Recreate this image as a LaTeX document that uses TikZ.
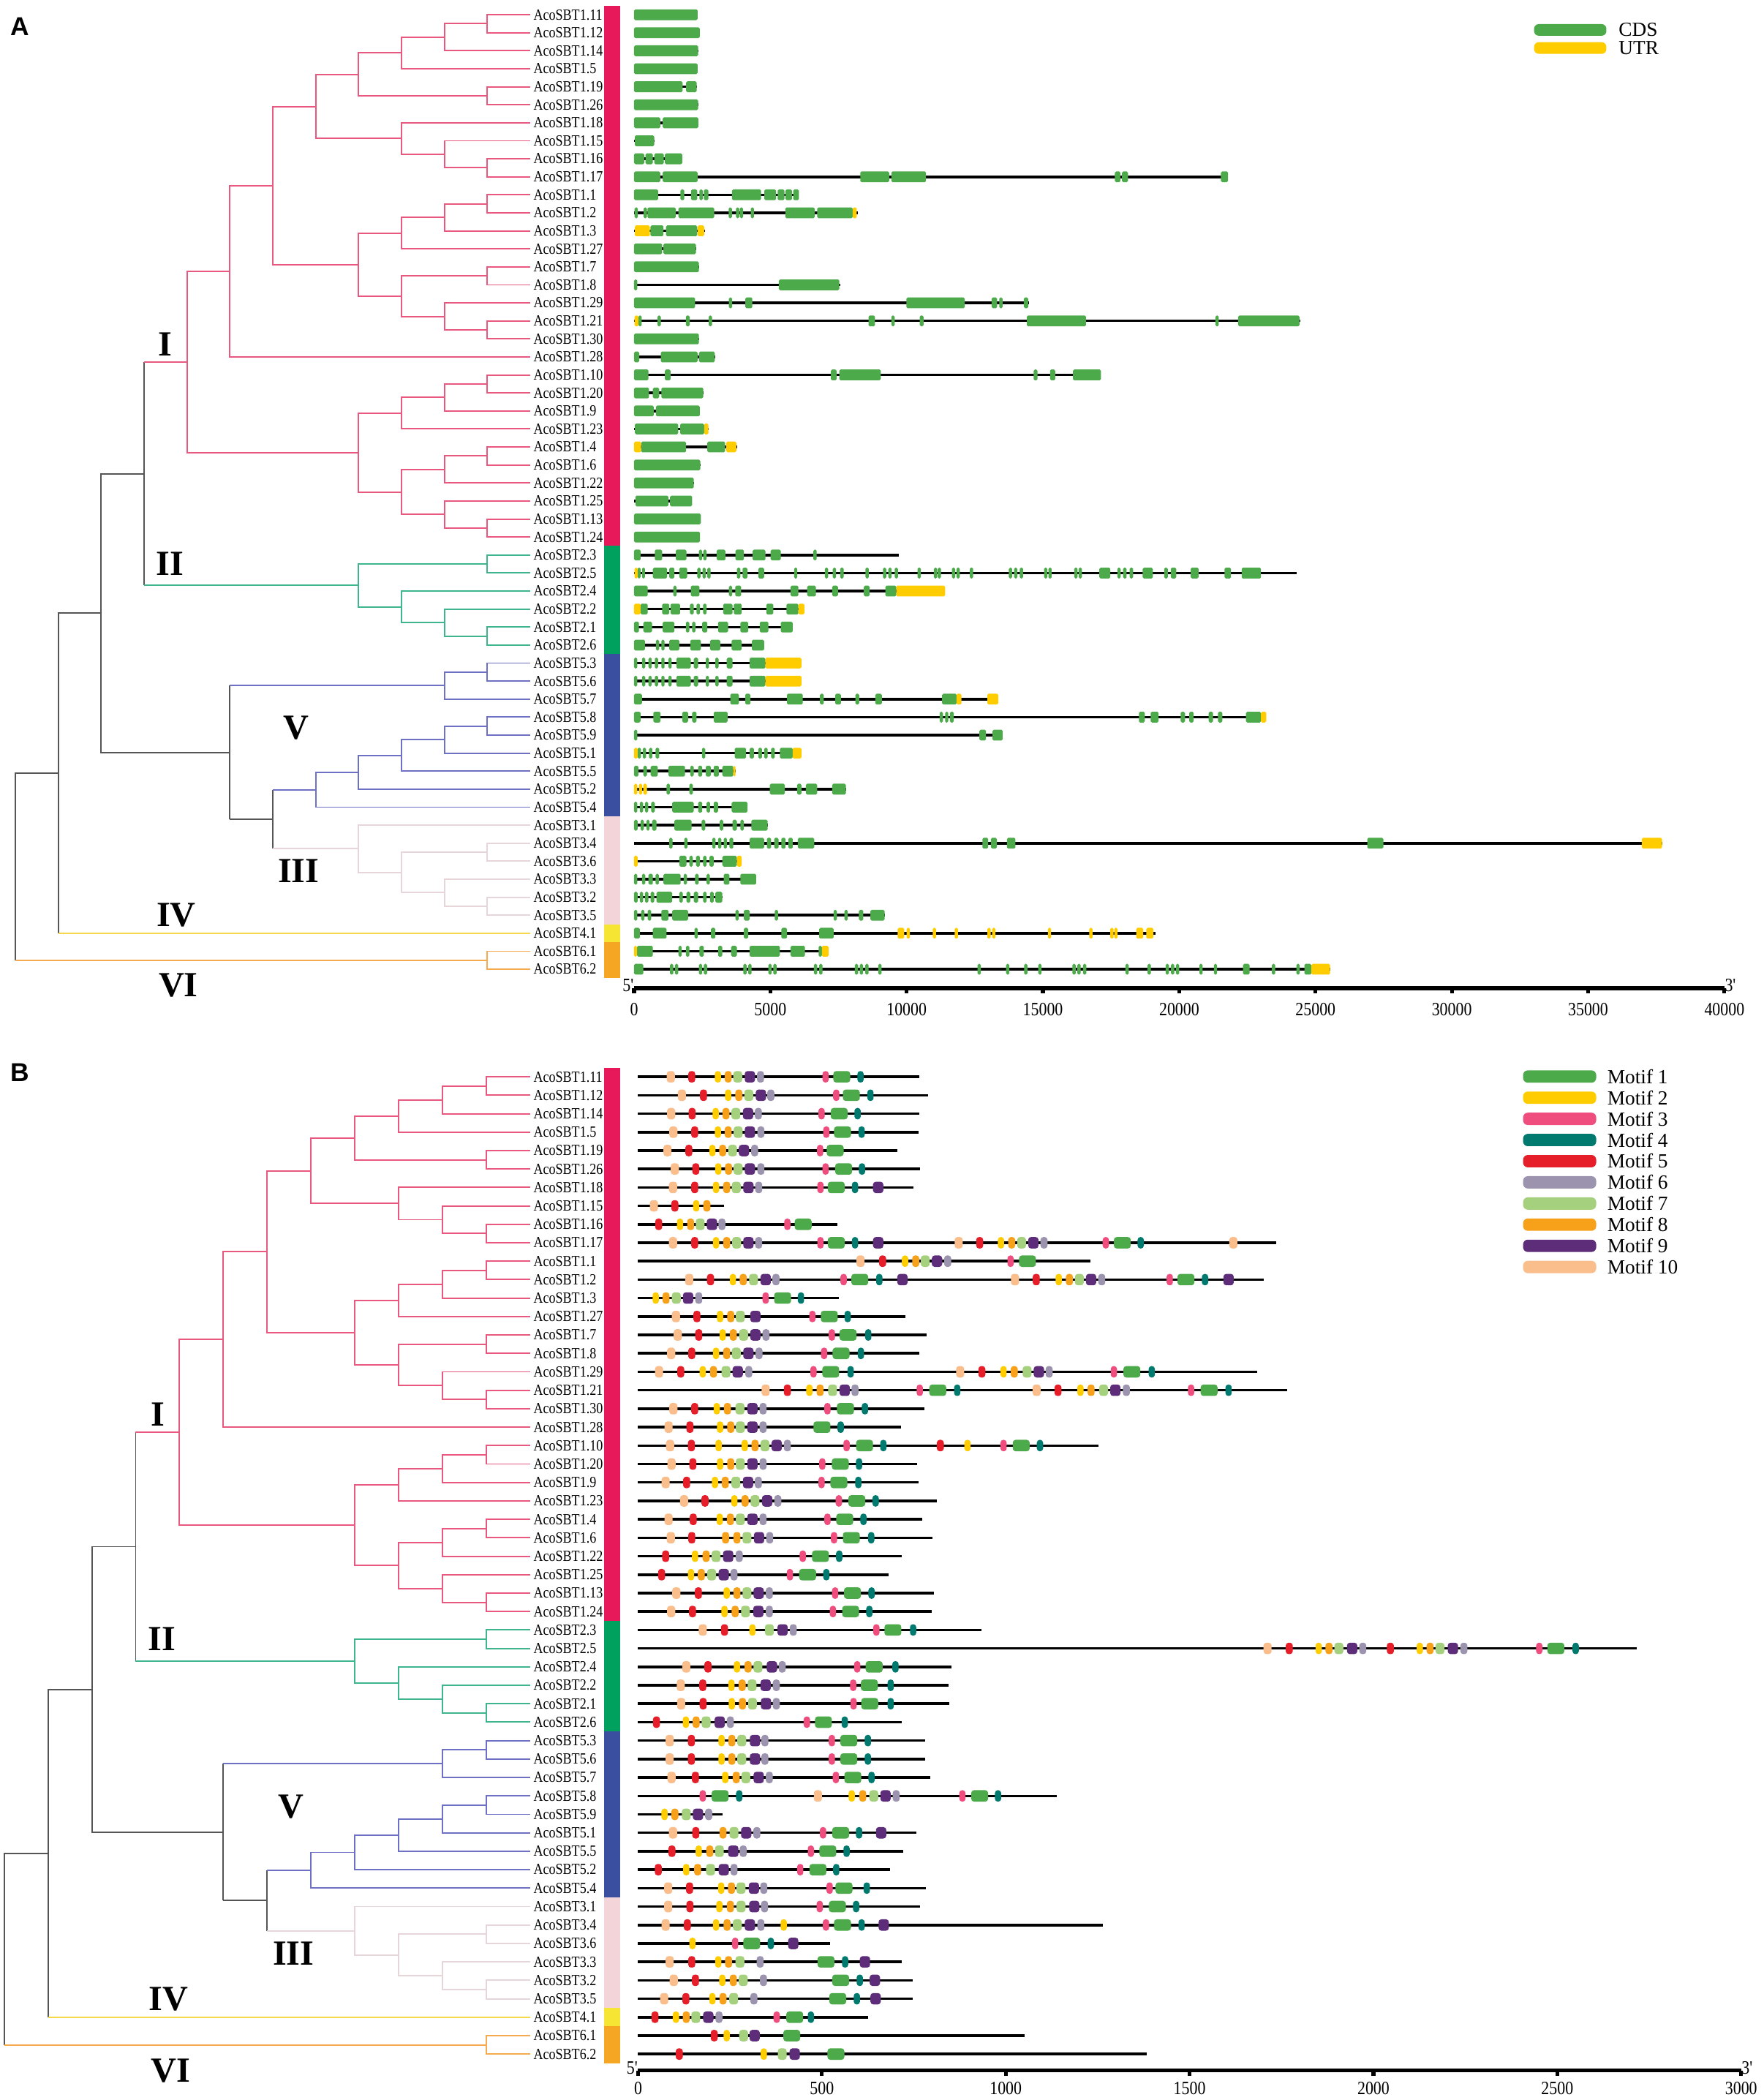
\documentclass[tikz,border=0pt]{standalone}
\usepackage{fontspec}
\setmainfont{Liberation Serif}
\newfontfamily\narrowfont[FakeStretch=0.85]{Liberation Serif}
\newfontfamily\panelfont{Liberation Sans}

% colours
\definecolor{cdsgreen}{HTML}{4DAA4A}
\definecolor{utryellow}{HTML}{FFCC00}
\definecolor{mc1}{HTML}{4DAA4A}
\definecolor{mc2}{HTML}{FFCC00}
\definecolor{mc3}{HTML}{EE4D7E}
\definecolor{mc4}{HTML}{007A6E}
\definecolor{mc5}{HTML}{E61E2A}
\definecolor{mc6}{HTML}{9C93AF}
\definecolor{mc7}{HTML}{A5D17F}
\definecolor{mc8}{HTML}{F7A11A}
\definecolor{mc9}{HTML}{5E2D79}
\definecolor{mc10}{HTML}{F9BE8C}
\definecolor{barI}{HTML}{E8195A}
\definecolor{barII}{HTML}{00A05E}
\definecolor{barV}{HTML}{3B4FA0}
\definecolor{barIII}{HTML}{F3D5D9}
\definecolor{barIV}{HTML}{F7E533}
\definecolor{barVI}{HTML}{F5A623}
\definecolor{lnI}{HTML}{E8587F}
\definecolor{lnII}{HTML}{3FB58F}
\definecolor{lnV}{HTML}{6E70C4}
\definecolor{lnIII}{HTML}{E6D6DA}
\definecolor{lnIV}{HTML}{F5D94A}
\definecolor{lnVI}{HTML}{F5AA4F}
\definecolor{lnback}{HTML}{555555}

\newcommand{\genelist}{1.11,1.12,1.14,1.5,1.19,1.26,1.18,1.15,1.16,1.17,1.1,1.2,1.3,1.27,1.7,1.8,1.29,1.21,1.30,1.28,1.10,1.20,1.9,1.23,1.4,1.6,1.22,1.25,1.13,1.24,2.3,2.5,2.4,2.2,2.1,2.6,5.3,5.6,5.7,5.8,5.9,5.1,5.5,5.2,5.4,3.1,3.4,3.6,3.3,3.2,3.5,4.1,6.1,6.2}
\newcommand{\motifw}{{0,46,17,17,17,19,19,24,19,28,22}}

% one gene: row, length (kb), CDS list
\newcommand{\genebar}[3]{%
  \draw[intron] (0,#1) -- (#2,#1);
  \foreach \ga/\gb in {#3} \fill[cds] (\ga,#1-0.3) rectangle (\gb,#1+0.3);
}
\newcommand{\utrbox}[2]{%
  \foreach \ga/\gb in {#2} \fill[utr] (\ga,#1-0.3) rectangle (\gb,#1+0.3);
}
% one protein: row, length (aa), motif/centre list
\newcommand{\motifrow}[3]{%
  \draw[protein] (0,#1) -- (#2,#1);
  \foreach \mnum/\mpos in {#3} {
    \pgfmathsetmacro{\hw}{\motifw[\mnum]/2}
    \fill[motif, fill=mc\mnum] (\mpos-\hw,#1-0.31) rectangle (\mpos+\hw,#1+0.31);
  }
}

% tree in (level,row) units, leaves at level 0
\newcommand{\sbttree}[1]{%
  % clade I
  \draw[brI] (0,0) -| (1,0.5) |- (0,1);
  \draw[brI] (1,0.5) -| (2,1.25) |- (0,2);
  \draw[brI] (2,1.25) -| (3,2.125) |- (0,3);
  \draw[brI] (0,4) -| (1,4.5) |- (0,5);
  \draw[brI] (3,2.125) -| (4,3.3125) |- (1,4.5);
  \draw[brI] (0,8) -| (1,8.5) |- (0,9);
  \draw[brI] (0,7) -| (2,7.75) |- (1,8.5);
  \draw[brI] (0,6) -| (3,6.875) |- (2,7.75);
  \draw[brI] (4,3.3125) -| (5,5.094) |- (3,6.875);
  \draw[brI] (0,10) -| (1,10.5) |- (0,11);
  \draw[brI] (1,10.5) -| (2,11.25) |- (0,12);
  \draw[brI] (2,11.25) -| (3,12.125) |- (0,13);
  \draw[brI] (0,14) -| (1,14.5) |- (0,15);
  \draw[brI] (0,17) -| (1,17.5) |- (0,18);
  \draw[brI] (0,16) -| (2,16.75) |- (1,17.5);
  \draw[brI] (1,14.5) -| (3,15.625) |- (2,16.75);
  \draw[brI] (3,12.125) -| (4,13.875) |- (3,15.625);
  \draw[brI] (5,5.094) -| (6,9.484) |- (4,13.875);
  \draw[brI] (6,9.484) -| (7,14.242) |- (0,19);
  \draw[brI] (0,20) -| (1,20.5) |- (0,21);
  \draw[brI] (1,20.5) -| (2,21.25) |- (0,22);
  \draw[brI] (2,21.25) -| (3,22.125) |- (0,23);
  \draw[brI] (0,24) -| (1,24.5) |- (0,25);
  \draw[brI] (1,24.5) -| (2,25.25) |- (0,26);
  \draw[brI] (0,28) -| (1,28.5) |- (0,29);
  \draw[brI] (0,27) -| (2,27.75) |- (1,28.5);
  \draw[brI] (2,25.25) -| (3,26.5) |- (2,27.75);
  \draw[brI] (3,22.125) -| (4,24.3125) |- (3,26.5);
  \draw[brI] (7,14.242) -| (8,19.277) |- (4,24.3125);
  % clade II
  \draw[brII] (0,30) -| (1,30.5) |- (0,31);
  \draw[brII] (0,34) -| (1,34.5) |- (0,35);
  \draw[brII] (0,33) -| (2,33.75) |- (1,34.5);
  \draw[brII] (0,32) -| (3,32.875) |- (2,33.75);
  \draw[brII] (1,30.5) -| (4,31.6875) |- (3,32.875);
  % I + II
  \draw[brback] (9,19.277) -- (9,31.6875);
  \draw[brI] (8,19.277) -- (9,19.277);
  \draw[brII] (4,31.6875) -- (9,31.6875);
  % clade V
  \draw[brV] (0,36) -| (1,36.5) |- (0,37);
  \draw[brV] (1,36.5) -| (2,37.25) |- (0,38);
  \draw[brV] (0,39) -| (1,39.5) |- (0,40);
  \draw[brV] (1,39.5) -| (2,40.25) |- (0,41);
  \draw[brV] (2,40.25) -| (3,41.125) |- (0,42);
  \draw[brV] (3,41.125) -| (4,42.0625) |- (0,43);
  \draw[brV] (4,42.0625) -| (5,43.031) |- (0,44);
  % clade III
  \draw[brIII] (0,46) -| (1,46.5) |- (0,47);
  \draw[brIII] (0,49) -| (1,49.5) |- (0,50);
  \draw[brIII] (0,48) -| (2,48.75) |- (1,49.5);
  \draw[brIII] (1,46.5) -| (3,47.625) |- (2,48.75);
  \draw[brIII] (0,45) -| (4,46.3125) |- (3,47.625);
  % V + III
  \draw[brback] (6,43.031) -- (6,46.3125);
  \draw[brV] (5,43.031) -- (6,43.031);
  \draw[brIII] (4,46.3125) -- (6,46.3125);
  \draw[brback] (7,37.25) -- (7,44.672);
  \draw[brV] (2,37.25) -- (7,37.25);
  \draw[brback] (6,44.672) -- (7,44.672);
  % backbone, IV and VI
  \draw[brback] (9,25.482) -| (10,33.22) |- (7,40.961);
  \draw[brback] (10,33.22) -| (11,51);
  \draw[brIV] (11,51) -- (0,51);
  \draw[brback] (11,42.11) -| (12,52.5);
  \draw[brVI] (12,52.5) -- (1,52.5);
  \draw[brVI] (0,52) -| (1,52.5) |- (0,53);
  % gene names
  \foreach \g [count=\ri from 0] in \genelist
    \node[gname] (#1-\ri) at (0,\ri) {AcoSBT\g};
  % clade bar
  \fill[barI] ([xshift=1.1cm]0,-0.5) rectangle ([xshift=1.34cm]0,29.5);
  \fill[barII] ([xshift=1.1cm]0,29.5) rectangle ([xshift=1.34cm]0,35.5);
  \fill[barV] ([xshift=1.1cm]0,35.5) rectangle ([xshift=1.34cm]0,44.5);
  \fill[barIII] ([xshift=1.1cm]0,44.5) rectangle ([xshift=1.34cm]0,50.5);
  \fill[barIV] ([xshift=1.1cm]0,50.5) rectangle ([xshift=1.34cm]0,51.5);
  \fill[barVI] ([xshift=1.1cm]0,51.5) rectangle ([xshift=1.34cm]0,53.5);
  % clade numerals
  \node[clab] (#1-I) at (8.5,18.3) {I};
  \node[clab] (#1-II) at (8.4,30.5) {II};
  \node[clab] (#1-V) at (5.45,39.6) {V};
  \node[clab] (#1-III) at (5.4,47.55) {III};
  \node[clab] (#1-IV) at (8.25,50) {IV};
  \node[clab] (#1-VI) at (8.2,53.9) {VI};
}

\begin{document}
\begin{tikzpicture}[x=0.02cm, y=-0.02cm,
  brI/.style={draw=lnI, line width=0.6pt},
  brII/.style={draw=lnII, line width=0.6pt},
  brV/.style={draw=lnV, line width=0.6pt},
  brIII/.style={draw=lnIII, line width=0.6pt},
  brIV/.style={draw=lnIV, line width=0.6pt},
  brVI/.style={draw=lnVI, line width=0.6pt},
  brback/.style={draw=lnback, line width=0.6pt},
  gname/.style={font=\narrowfont\fontsize{6.6}{7}\selectfont, anchor=west,
                inner sep=0pt, xshift=1.2pt},
  clab/.style={font=\bfseries\fontsize{15}{15}\selectfont, inner sep=0pt},
  intron/.style={line width=1.1pt},
  cds/.style={fill=cdsgreen, rounded corners=0.55pt},
  utr/.style={fill=utryellow, rounded corners=0.55pt},
  protein/.style={line width=1.1pt},
  motif/.style={rounded corners=1.2pt},
  axisline/.style={line width=1.6pt},
  tick/.style={font=\narrowfont\fontsize{8}{8}\selectfont, inner sep=0pt},
  legbox/.style={rounded corners=2pt},
  legtext/.style={font=\fontsize{8.5}{9}\selectfont, anchor=west, inner sep=0pt},
  panel/.style={font=\panelfont\bfseries\fontsize{11}{11}\selectfont, inner sep=0pt}
]
\useasboundingbox (0,0) rectangle (1317,1568);

% Panel labels
\node[panel] (lblA) at (15,20) {A};
\node[panel] (lblB) at (15,801) {B};

% A: tree
\begin{scope}[shift={(396,11)}, x={(-0.641cm,0)}, y={(0,-0.269cm)}]
  \sbttree{ta}
\end{scope}

% A: gene structures (kb)
\begin{scope}[shift={(473.5,11)}, x={(0.4072cm,0)}, y={(0,-0.269cm)}]
  \genebar{0}{2.33}{0/2.33}
  \genebar{1}{2.41}{0/2.41}
  \genebar{2}{2.35}{0/2.35}
  \genebar{3}{2.33}{0/2.33}
  \genebar{4}{2.30}{0/1.78, 1.91/2.30}
  \genebar{5}{2.35}{0/2.35}
  \genebar{6}{2.36}{0/0.96, 1.05/2.36}
  \genebar{7}{0.74}{0.03/0.74}
  \genebar{8}{1.77}{0/0.37, 0.42/0.69, 0.74/1.09, 1.13/1.77}
  \genebar{9}{21.79}{0/0.96, 1.05/2.33, 8.30/9.36, 9.44/10.71, 17.64/17.84, 17.90/18.12, 21.53/21.79}
  \genebar{10}{6.05}{0/0.88, 1.70/1.84, 2.09/2.32, 2.40/2.52, 2.56/2.73, 3.59/4.66, 4.78/5.21, 5.27/5.52, 5.56/5.79, 5.84/6.05}
  \genebar{11}{8.20}{0.02/0.14, 0.35/0.47, 0.49/1.53, 1.63/2.94, 3.47/3.59, 3.74/3.86, 3.88/4.00, 4.28/4.40, 5.55/6.63, 6.72/8.02}
  \utrbox{11}{8.02/8.17}
  \genebar{12}{2.60}{0.60/1.08, 1.17/2.32}
  \utrbox{12}{0.03/0.58, 2.33/2.57}
  \genebar{13}{2.27}{0/1.03, 1.08/2.27}
  \genebar{14}{2.38}{0/2.38}
  \genebar{15}{7.56}{0/0.12, 5.31/7.53}
  \genebar{16}{14.48}{0/2.24, 3.48/3.60, 4.08/4.34, 9.99/12.13, 13.12/13.32, 13.40/13.52, 14.30/14.46}
  \genebar{17}{24.43}{0.16/0.28, 0.86/0.98, 1.90/2.04, 2.74/2.86, 8.60/8.84, 9.44/9.56, 10.48/10.62, 14.41/16.58, 21.33/21.45, 22.16/24.41}
  \utrbox{17}{0.02/0.16}
  \genebar{18}{2.38}{0/2.38}
  \genebar{19}{2.98}{0/0.19, 0.98/2.33, 2.38/2.96}
  \genebar{20}{17.13}{0/0.53, 1.13/1.34, 7.22/7.43, 7.53/9.05, 14.66/14.80, 15.26/15.45, 16.10/17.13}
  \genebar{21}{2.54}{0/0.55, 0.69/0.92, 1.0/2.54}
  \genebar{22}{2.41}{0/0.72, 0.80/2.41}
  \genebar{23}{2.73}{0.03/1.62, 1.69/2.57}
  \utrbox{23}{2.57/2.73}
  \genebar{24}{3.78}{0.26/1.91, 2.69/3.34}
  \utrbox{24}{0/0.26, 3.38/3.75}
  \genebar{25}{2.43}{0/2.43}
  \genebar{26}{2.19}{0/2.19}
  \genebar{27}{2.13}{0.05/1.26, 1.32/2.13}
  \genebar{28}{2.45}{0/2.45}
  \genebar{29}{2.42}{0/2.42}
  \genebar{30}{9.70}{0/0.24, 0.76/1.03, 1.53/1.92, 2.38/2.50, 2.54/2.66, 3.03/3.35, 3.72/4.03, 4.35/4.82, 5.01/5.38, 6.58/6.70}
  \genebar{31}{24.32}{0.13/0.24, 0.29/0.40, 0.69/1.21, 1.29/1.48, 1.66/1.95, 2.32/2.44, 2.51/2.63, 2.69/2.81, 3.77/3.90, 3.98/4.16, 4.56/4.77, 5.87/5.99, 7.00/7.12, 7.29/7.41, 7.56/7.69, 8.49/8.61, 9.13/9.25, 9.33/9.45, 9.56/9.68, 10.40/10.52, 11.00/11.12, 11.14/11.26, 11.66/11.78, 11.83/11.95, 12.32/12.44, 13.75/13.87, 13.94/14.06, 14.15/14.27, 15.04/15.16, 15.20/15.32, 16.15/16.27, 16.31/16.43, 17.07/17.47, 17.73/17.85, 17.94/18.07, 18.18/18.31, 18.66/19.03, 19.45/19.58, 19.69/19.89, 20.42/20.71, 21.66/21.90, 22.29/23.0}
  \utrbox{31}{0.02/0.13}
  \genebar{32}{11.41}{0/0.50, 1.44/1.56, 2.08/2.40, 3.48/3.60, 3.71/3.93, 5.74/6.03, 6.35/6.67, 7.27/7.48, 8.43/8.64, 9.22/9.62}
  \utrbox{32}{9.62/11.41}
  \genebar{33}{6.25}{0.24/0.50, 1.03/1.29, 1.34/1.69, 2.05/2.19, 2.29/2.42, 2.53/2.66, 3.27/3.61, 3.66/3.95, 4.85/5.11, 5.59/6.03}
  \utrbox{33}{0/0.24, 6.03/6.25}
  \genebar{34}{5.82}{0/0.18, 0.34/0.66, 1.05/1.48, 1.90/2.03, 2.13/2.25, 2.50/2.69, 3.08/3.45, 3.90/4.19, 4.61/4.93, 5.38/5.82}
  \genebar{35}{4.77}{0/0.40, 0.80/0.92, 1.0/1.12, 1.29/1.66, 2.06/2.45, 2.79/3.16, 3.58/3.95, 4.32/4.77}
  \genebar{36}{6.14}{0/0.12, 0.29/0.41, 0.53/0.65, 0.76/0.88, 1.0/1.12, 1.26/1.38, 1.55/2.08, 2.19/2.35, 2.63/2.75, 2.98/3.10, 3.40/3.61, 4.24/4.82}
  \utrbox{36}{4.82/6.14}
  \genebar{37}{6.14}{0/0.12, 0.29/0.41, 0.53/0.65, 0.76/0.88, 1.0/1.12, 1.26/1.38, 1.55/2.08, 2.19/2.35, 2.63/2.75, 2.98/3.10, 3.40/3.61, 4.24/4.82}
  \utrbox{37}{4.82/6.14}
  \genebar{38}{13.36}{0/0.29, 3.53/3.85, 4.08/4.27, 5.61/6.19, 6.82/6.96, 7.38/7.59, 8.12/8.26, 8.85/9.09, 11.30/11.83}
  \utrbox{38}{11.83/12.01, 12.96/13.36}
  \genebar{39}{23.19}{0/0.24, 0.71/0.97, 1.77/1.98, 2.13/2.29, 2.92/3.43, 11.21/11.33, 11.41/11.53, 11.59/11.73, 18.52/18.74, 18.95/19.24, 20.05/20.21, 20.37/20.53, 21.08/21.24, 21.42/21.58, 22.45/23.0}
  \utrbox{39}{23.0/23.19}
  \genebar{40}{13.52}{0/0.12, 12.67/12.91, 13.15/13.52}
  \genebar{41}{6.14}{0.13/0.25, 0.32/0.44, 0.55/0.67, 0.79/0.92, 2.49/2.61, 3.69/4.11, 4.24/4.40, 4.56/4.69, 4.77/4.90, 5.03/5.16, 5.35/5.82}
  \utrbox{41}{0/0.13, 5.82/6.14}
  \genebar{42}{3.72}{0/0.16, 0.34/0.47, 0.61/0.87, 1.26/1.87, 2.06/2.19, 2.35/2.50, 2.63/2.82, 2.92/3.11, 3.24/3.64}
  \utrbox{42}{3.64/3.72}
  \genebar{43}{7.77}{1.19/1.32, 2.03/2.16, 4.98/5.53, 5.98/6.14, 6.30/6.72, 7.27/7.77}
  \utrbox{43}{0/0.12, 0.18/0.30, 0.34/0.47}
  \genebar{44}{4.16}{0/0.12, 0.21/0.33, 0.40/0.52, 0.63/0.76, 1.40/2.19, 2.35/2.50, 2.66/2.79, 2.92/3.08, 3.58/4.16}
  \genebar{45}{4.90}{0/0.13, 0.24/0.36, 0.45/0.57, 0.66/0.82, 1.48/2.11, 2.48/2.61, 3.14/3.27, 3.61/3.77, 3.90/4.03, 4.30/4.90}
  \genebar{46}{37.71}{1.29/1.41, 1.84/1.96, 2.87/2.99, 3.08/3.20, 3.29/3.41, 3.50/3.64, 4.24/4.77, 4.87/5.03, 5.14/5.30, 5.40/5.56, 5.66/5.82, 6.01/6.61, 12.78/12.99, 13.09/13.31, 13.68/13.99, 26.90/27.49}
  \utrbox{46}{36.97/37.71}
  \genebar{47}{3.95}{1.66/1.92, 2.03/2.16, 2.27/2.42, 2.53/2.66, 2.77/2.92, 3.24/3.77}
  \utrbox{47}{0/0.13, 3.77/3.95}
  \genebar{48}{4.48}{0/0.12, 0.29/0.41, 0.53/0.69, 0.79/0.91, 1.08/1.71, 1.82/1.94, 2.24/2.37, 2.66/2.78, 3.29/3.50, 3.90/4.48}
  \genebar{49}{3.24}{0/0.13, 0.21/0.33, 0.40/0.53, 0.61/0.74, 0.82/1.40, 1.66/1.79, 1.92/2.06, 2.19/2.35, 2.53/2.66, 2.79/2.92, 2.98/3.24}
  \genebar{50}{9.19}{0/0.12, 0.26/0.38, 0.50/0.63, 1.0/1.26, 1.40/1.98, 3.72/3.84, 4.03/4.24, 5.16/5.28, 7.32/7.44, 7.72/7.84, 8.25/8.41, 8.67/9.19}
  \genebar{51}{19.13}{0/0.21, 0.69/1.19, 2.22/2.34, 2.82/2.98, 4.03/4.19, 5.40/5.61, 6.79/7.32}
  \utrbox{51}{9.67/9.91, 10.0/10.12, 10.96/11.08, 11.76/11.88, 12.96/13.08, 13.14/13.26, 15.18/15.30, 16.70/16.82, 17.47/17.59, 17.62/17.74, 18.42/18.68, 18.79/19.05}
  \genebar{52}{7.14}{0.11/0.69, 1.63/1.75, 1.90/2.03, 2.40/2.56, 3.08/3.24, 3.56/3.77, 4.24/5.35, 5.74/6.27, 6.77/6.89}
  \utrbox{52}{0/0.11, 6.89/7.14}
  \genebar{53}{25.53}{0/0.34, 1.32/1.44, 1.50/1.62, 2.38/2.50, 2.56/2.68, 4.01/4.13, 4.19/4.31, 4.93/5.05, 5.11/5.23, 6.60/6.72, 6.79/6.91, 8.10/8.22, 8.28/8.40, 8.48/8.60, 8.96/9.08, 12.60/12.72, 13.65/13.77, 14.31/14.43, 14.83/14.95, 16.08/16.20, 16.26/16.38, 16.47/16.59, 18.03/18.15, 18.84/18.96, 19.50/19.62, 19.70/19.82, 19.88/20.0, 20.74/20.86, 21.27/21.39, 22.34/22.58, 23.40/23.52, 24.30/24.42, 24.59/24.85}
  \utrbox{53}{24.85/25.53}
  % axis
  \draw[axisline] (0,54.05) -- (40,54.05);
  \foreach \k/\lab in {0/0, 5/5000, 10/10000, 15/15000, 20/20000, 25/25000, 30/30000, 35/35000, 40/40000} {
    \draw[axisline] (\k,54.05) -- (\k,54.35);
    \node[tick] (ta-tick\k) at (\k,55.24) {\lab};
  }
  \node[tick, anchor=east] (ta-five) at (0,53.9) {5'};
  \node[tick, anchor=west] (ta-three) at (40,53.9) {3'};
\end{scope}

% A: legend
\fill[cdsgreen, legbox] (1145.6,18) rectangle (1199.6,26.7);
\fill[utryellow, legbox] (1145.6,31.5) rectangle (1199.6,40.2);
\node[legtext] (cdsleg) at (1208.5,22.4) {CDS};
\node[legtext] (utrleg) at (1208.5,35.9) {UTR};

% B: tree
\begin{scope}[shift={(396,804)}, x={(-0.655cm,0)}, y={(0,-0.2754cm)}]
  \sbttree{tb}
\end{scope}

% B: conserved motifs (aa)
\begin{scope}[shift={(476.5,804)}, x={(0.0055cm,0)}, y={(0,-0.2754cm)}]
  \motifrow{0}{764}{10/89, 5/146, 2/217, 8/245, 7/271, 9/304, 6/333, 3/510, 1/554, 4/605}
  \motifrow{1}{789}{10/119, 5/178, 2/245, 8/274, 7/301, 9/334, 6/361, 3/539, 1/580, 4/632}
  \motifrow{2}{764}{10/90, 5/147, 2/211, 8/239, 7/266, 9/299, 6/327, 3/499, 1/547, 4/597}
  \motifrow{3}{762}{10/96, 5/154, 2/217, 8/245, 7/272, 9/304, 6/334, 3/512, 1/556, 4/608}
  \motifrow{4}{705}{10/80, 5/138, 2/202, 8/230, 7/257, 9/288, 6/317, 3/495, 1/536}
  \motifrow{5}{767}{10/100, 5/157, 2/218, 8/246, 7/272, 9/304, 6/334, 3/510, 1/559, 4/609}
  \motifrow{6}{749}{10/95, 5/154, 2/212, 8/241, 7/267, 9/300, 6/328, 3/496, 1/539, 4/590, 9/653}
  \motifrow{7}{234}{10/43, 5/100, 2/158, 8/187}
  \motifrow{8}{542}{5/56, 2/114, 8/143, 7/169, 9/201, 6/228, 3/406, 1/449}
  \motifrow{9}{1736}{10/95, 5/154, 2/212, 8/241, 7/268, 9/300, 6/328, 3/496, 1/539, 4/590, 9/653, 10/872, 5/929, 2/987, 8/1016, 7/1043, 9/1075, 6/1104, 3/1272, 1/1317, 4/1367, 10/1619}
  \motifrow{10}{1231}{10/605, 5/665, 2/726, 8/755, 7/781, 9/813, 6/842, 3/1013, 1/1059}
  \motifrow{11}{1702}{10/139, 5/197, 2/258, 8/286, 7/314, 9/347, 6/375, 3/559, 1/603, 4/656, 9/719, 10/1025, 5/1083, 2/1144, 8/1173, 7/1200, 9/1232, 6/1261, 3/1446, 1/1490, 4/1542, 9/1606}
  \motifrow{12}{547}{2/48, 8/76, 7/104, 9/136, 6/165, 3/347, 1/393, 4/443}
  \motifrow{13}{727}{10/103, 5/160, 2/223, 8/252, 7/278, 9/319, 3/474, 1/520, 4/570}
  \motifrow{14}{784}{10/108, 5/165, 2/230, 8/259, 7/287, 9/319, 6/348, 3/527, 1/571, 4/626}
  \motifrow{15}{764}{10/90, 5/146, 2/212, 8/241, 7/267, 9/300, 6/329, 3/506, 1/552, 4/606}
  \motifrow{16}{1683}{10/57, 5/116, 2/176, 8/205, 7/239, 9/271, 6/301, 3/477, 1/524, 4/578, 10/876, 5/935, 2/994, 8/1023, 7/1058, 9/1090, 6/1118, 3/1294, 1/1343, 4/1397}
  \motifrow{17}{1765}{10/347, 5/406, 2/466, 8/495, 7/529, 9/562, 6/590, 3/766, 1/815, 4/868, 10/1084, 5/1142, 2/1203, 8/1232, 7/1266, 9/1298, 6/1328, 3/1504, 1/1553, 4/1606}
  \motifrow{18}{779}{10/96, 5/154, 2/214, 8/243, 7/277, 9/311, 6/340, 3/515, 1/564, 4/617}
  \motifrow{19}{715}{10/83, 5/141, 2/223, 8/252, 7/278, 9/311, 6/340, 1/500, 4/551}
  \motifrow{20}{1252}{10/87, 5/145, 2/219, 2/290, 8/318, 7/345, 9/377, 6/406, 3/567, 1/616, 4/667, 5/822, 2/896, 3/994, 1/1042, 4/1093}
  \motifrow{21}{759}{10/91, 5/149, 2/223, 8/252, 7/278, 9/311, 6/340, 3/501, 1/550, 4/601}
  \motifrow{22}{763}{10/75, 5/132, 2/209, 8/237, 7/266, 9/299, 6/327, 3/499, 1/546, 4/599}
  \motifrow{23}{813}{10/125, 5/182, 2/262, 8/291, 7/318, 9/351, 6/380, 3/546, 1/595, 4/646}
  \motifrow{24}{772}{10/83, 5/150, 2/222, 8/251, 7/278, 9/311, 6/340, 3/515, 1/562, 4/613}
  \motifrow{25}{800}{10/89, 5/146, 8/238, 8/269, 7/296, 9/329, 6/358, 3/533, 1/580, 4/634}
  \motifrow{26}{717}{5/75, 2/155, 8/185, 7/212, 9/245, 6/275, 3/448, 1/496, 4/547}
  \motifrow{27}{682}{5/64, 2/144, 8/172, 7/200, 9/233, 6/261, 3/413, 1/461, 4/512}
  \motifrow{28}{805}{10/104, 5/164, 2/241, 8/269, 7/296, 9/328, 6/357, 3/536, 1/583, 4/635}
  \motifrow{29}{798}{10/90, 5/148, 2/235, 8/264, 7/292, 9/327, 6/357, 3/530, 1/578, 4/629}
  \motifrow{30}{933}{10/176, 5/235, 2/311, 7/357, 9/393, 6/422, 3/648, 1/693, 4/748}
  \motifrow{31}{2716}{10/1712, 5/1771, 2/1851, 8/1879, 7/1906, 9/1942, 6/1971, 5/2046, 2/2126, 8/2154, 7/2181, 9/2216, 6/2246, 3/2451, 1/2496, 4/2550}
  \motifrow{32}{853}{10/131, 5/190, 2/269, 8/299, 7/326, 9/364, 6/392, 3/596, 1/642, 4/700}
  \motifrow{33}{845}{10/116, 5/176, 2/254, 8/283, 7/310, 9/347, 6/376, 3/585, 1/629, 4/687}
  \motifrow{34}{846}{10/117, 5/177, 2/255, 8/284, 7/311, 9/348, 6/376, 3/586, 1/630, 4/687}
  \motifrow{35}{718}{5/50, 2/130, 8/158, 7/185, 9/222, 6/251, 3/459, 1/504, 4/562}
  \motifrow{36}{780}{10/86, 5/145, 2/227, 8/255, 7/282, 9/318, 6/345, 3/527, 1/573, 4/625}
  \motifrow{37}{780}{10/86, 5/145, 2/227, 8/255, 7/282, 9/318, 6/345, 3/527, 1/573, 4/625}
  \motifrow{38}{795}{10/91, 5/156, 2/237, 8/267, 7/293, 9/328, 6/357, 3/538, 1/584, 4/635}
  \motifrow{39}{1138}{3/176, 1/223, 4/275, 10/489, 2/581, 8/611, 7/641, 9/673, 6/702, 3/882, 1/929, 4/979}
  \motifrow{40}{229}{2/72, 8/100, 7/131, 9/163, 6/192}
  \motifrow{41}{757}{10/95, 5/157, 8/231, 7/261, 9/294, 6/323, 3/503, 1/551, 4/601, 9/661}
  \motifrow{42}{722}{5/92, 2/165, 8/195, 7/221, 9/259, 6/286, 3/470, 1/516, 4/567}
  \motifrow{43}{686}{5/55, 2/131, 8/162, 7/197, 9/233, 6/261, 3/441, 1/489, 4/539}
  \motifrow{44}{782}{10/82, 5/140, 2/226, 8/254, 7/280, 9/315, 6/342, 3/521, 1/560, 4/622}
  \motifrow{45}{767}{10/82, 5/141, 2/221, 8/251, 7/280, 9/316, 6/344, 3/494, 1/542, 4/593}
  \motifrow{46}{1265}{10/75, 5/134, 2/212, 8/242, 7/270, 9/304, 6/334, 2/396, 3/511, 1/556, 4/608, 9/668}
  \motifrow{47}{522}{2/148, 3/264, 1/309, 4/361, 9/422}
  \motifrow{48}{718}{10/86, 5/146, 2/218, 8/246, 7/277, 6/332, 1/511, 4/563, 9/617}
  \motifrow{49}{746}{10/97, 5/156, 2/229, 8/259, 7/286, 6/341, 1/551, 4/603, 9/644}
  \motifrow{50}{747}{10/71, 5/130, 2/202, 8/231, 7/260, 6/315, 1/543, 4/595, 9/646}
  \motifrow{51}{625}{5/46, 2/103, 8/131, 7/157, 9/191, 6/220, 3/377, 1/426, 4/470}
  \motifrow{52}{1052}{5/207, 2/241, 7/287, 9/317, 1/418}
  \motifrow{53}{1383}{5/112, 2/342, 7/392, 9/426, 1/538}
  % axis
  \draw[axisline] (0,53.89) -- (3000,53.89);
  \foreach \k in {0,500,...,3000} {
    \draw[axisline] (\k,53.89) -- (\k,54.17);
    \node[tick] (tb-tick\k) at (\k,54.86) {\k};
  }
  \node[tick, anchor=east] (tb-five) at (0,53.75) {5'};
  \node[tick, anchor=west] (tb-three) at (3000,53.75) {3'};
\end{scope}

% B: legend
\foreach \k in {1,...,10} {
  \fill[mc\k, legbox] (1137.4,799.2+15.8*\k-15.8) rectangle (1192,808.4+15.8*\k-15.8);
  \node[legtext] (motleg\k) at (1200,803.8+15.8*\k-15.8) {Motif \k};
}
\end{tikzpicture}
\end{document}
